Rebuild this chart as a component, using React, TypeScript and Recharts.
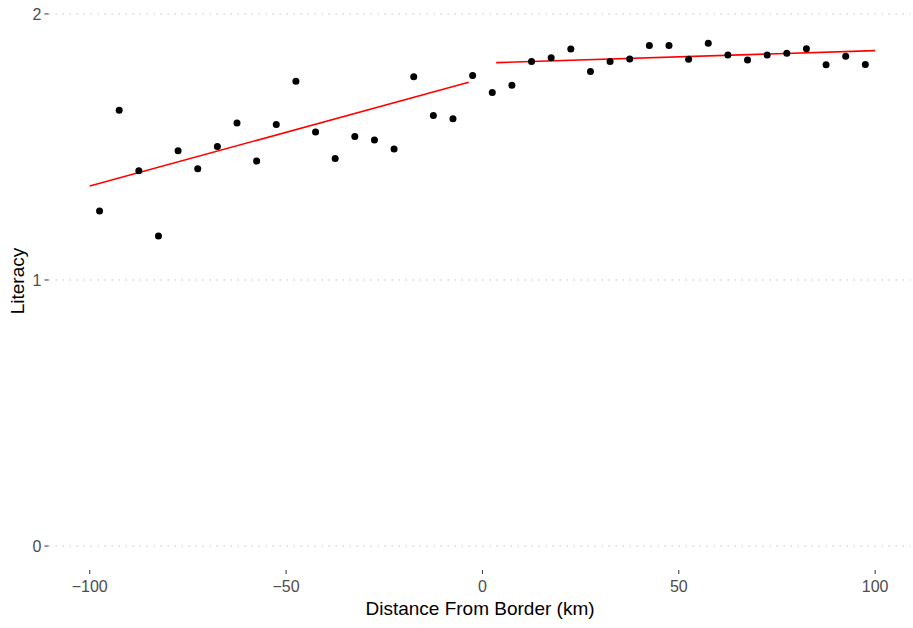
import { ScatterChart, Scatter, XAxis, YAxis, ReferenceLine, Label } from "recharts"

// bin centres (km from the border)
const distance = [
  -97.5, -92.5, -87.5, -82.5, -77.5, -72.5, -67.5, -62.5, -57.5, -52.5,
  -47.5, -42.5, -37.5, -32.5, -27.5, -22.5, -17.5, -12.5, -7.5, -2.5,
  2.5, 7.5, 12.5, 17.5, 22.5, 27.5, 32.5, 37.5, 42.5, 47.5,
  52.5, 57.5, 62.5, 67.5, 72.5, 77.5, 82.5, 87.5, 92.5, 97.5,
]

// mean literacy per bin
const literacy = [
  1.259, 1.638, 1.411, 1.165, 1.486, 1.418, 1.502, 1.59, 1.447, 1.584,
  1.747, 1.556, 1.457, 1.539, 1.526, 1.492, 1.764, 1.618, 1.606, 1.769,
  1.705, 1.732, 1.821, 1.835, 1.868, 1.784, 1.821, 1.831, 1.881, 1.881,
  1.83, 1.89, 1.846, 1.827, 1.846, 1.852, 1.869, 1.809, 1.841, 1.81,
]

// linear fits on each side of the border
const leftFitX = [-100, -3.5]
const leftFitY = [1.353, 1.743]
const rightFitX = [3.5, 100]
const rightFitY = [1.817, 1.862]

const xTicks = [-100, -50, 0, 50, 100]
const yTicks = [0, 1, 2]

const points = distance.map((x, i) => ({ x, y: literacy[i] }))
const leftFit = leftFitX.map((x, i) => ({ x, y: leftFitY[i] }))
const rightFit = rightFitX.map((x, i) => ({ x, y: rightFitY[i] }))

const font = "'Liberation Sans', Arial, sans-serif"
const fmt = (v: number) => (v < 0 ? `\u2212${-v}` : `${v}`)
const noDot = () => <g />

export default function App() {
  return (
    <div style={{ position: "absolute", left: 0, top: 0, fontFamily: font }}>
      <ScatterChart width={913} height={628} margin={{ top: 11, right: 2.5, bottom: 0, left: 0 }}>
        {yTicks.map((t) => (
          <ReferenceLine key={t} y={t} stroke="#c4c4c4" strokeDasharray="1.5 5.5" />
        ))}
        <XAxis
          type="number"
          dataKey="x"
          domain={[-110.5, 109]}
          allowDataOverflow
          ticks={xTicks}
          tickFormatter={fmt}
          axisLine={false}
          tickSize={4}
          tickMargin={7}
          tickLine={{ stroke: "#333333" }}
          tick={{ fill: "#4d4d4d", fontSize: 16, fontFamily: font }}
          height={58}
        >
          <Label
            content={() => (
              <text x={480} y={615} textAnchor="middle" fontSize={19} fill="#000" fontFamily={font}>
                Distance From Border (km)
              </text>
            )}
          />
        </XAxis>
        <YAxis
          type="number"
          dataKey="y"
          domain={[-0.09, 2.011]}
          allowDataOverflow
          ticks={yTicks}
          axisLine={false}
          tickSize={4}
          tickMargin={3}
          tickLine={{ stroke: "#333333" }}
          tick={{ fill: "#4d4d4d", fontSize: 16, fontFamily: font }}
          width={48.5}
        >
          <Label
            content={() => (
              <text
                x={23.5}
                y={281}
                textAnchor="middle"
                fontSize={19}
                fill="#000"
                fontFamily={font}
                transform="rotate(-90 23.5 281)"
              >
                Literacy
              </text>
            )}
          />
        </YAxis>
        <Scatter data={leftFit} line={{ stroke: "#ff0000", strokeWidth: 1.6 }} shape={noDot} isAnimationActive={false} />
        <Scatter data={rightFit} line={{ stroke: "#ff0000", strokeWidth: 1.6 }} shape={noDot} isAnimationActive={false} />
        <Scatter data={points} fill="#000000" shape={(p: any) => <circle cx={p.cx} cy={p.cy} r={3.5} fill="#000" />} isAnimationActive={false} />
      </ScatterChart>
    </div>
  )
}
